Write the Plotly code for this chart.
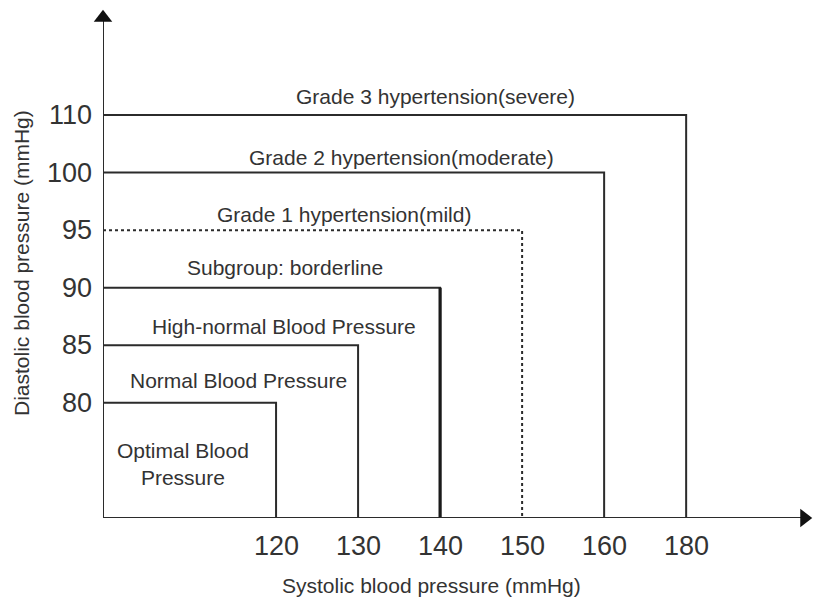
import plotly.graph_objects as go

# ---- data ----
systolic = [120, 130, 140, 150, 160, 180]
diastolic = [80, 85, 90, 95, 100, 110]
# boxes: (systolic limit, diastolic limit, label)
box_sys = [120, 130, 140, 150, 160, 180]
box_dia = [80, 85, 90, 95, 100, 110]
box_labels = [
    "Optimal Blood<br>Pressure",
    "Normal Blood Pressure",
    "High-normal Blood Pressure",
    "Grade 1 hypertension(mild)",
    "Grade 2 hypertension(moderate)",
    "Grade 3 hypertension(severe)",
]
borderline_label = "Subgroup: borderline"
x_title = "Systolic blood pressure (mmHg)"
y_title = "Diastolic blood pressure (mmHg)"

# ---- ordinal scales (ticks are evenly spaced) ----
def xp(v):
    return systolic.index(v)

def yp(v):
    return diastolic.index(v)

X0, Y0 = -2.11, -2.0
XMAX, YMAX = 6.51, 6.79

LINE = "#2b2b2b"
TXT = "#333333"
FONT = "Liberation Sans, Arial, sans-serif"

fig = go.Figure()

styles = {
    120: dict(width=2, dash="solid"),
    130: dict(width=2, dash="solid"),
    140: dict(width=2, dash="solid"),
    150: dict(width=2, dash="3px,3px"),
    160: dict(width=2, dash="solid"),
    180: dict(width=2, dash="solid"),
}

for s, d in zip(box_sys, box_dia):
    st = styles[s]
    fig.add_trace(go.Scatter(
        x=[X0, xp(s), xp(s)], y=[yp(d), yp(d), Y0],
        mode="lines", line=dict(color=LINE, width=st["width"], dash=st["dash"]),
        hoverinfo="skip", showlegend=False))
# the borderline vertical at 140 is drawn heavier
fig.add_trace(go.Scatter(x=[xp(140), xp(140)], y=[yp(90), Y0], mode="lines",
                         line=dict(color="#1a1a1a", width=3.2), hoverinfo="skip", showlegend=False))

# axes with arrows
fig.add_trace(go.Scatter(x=[X0, XMAX - 0.1], y=[Y0, Y0], mode="lines",
                         line=dict(color=LINE, width=2), showlegend=False, hoverinfo="skip",
                         cliponaxis=False))
fig.add_trace(go.Scatter(x=[X0, X0], y=[Y0, YMAX - 0.15], mode="lines",
                         line=dict(color=LINE, width=2), showlegend=False, hoverinfo="skip",
                         cliponaxis=False))
fig.add_trace(go.Scatter(x=[XMAX - 0.07], y=[Y0], mode="markers",
                         marker=dict(symbol="triangle-right", size=16, color="#111111"),
                         showlegend=False, hoverinfo="skip", cliponaxis=False))
fig.add_trace(go.Scatter(x=[X0], y=[YMAX - 0.1], mode="markers",
                         marker=dict(symbol="triangle-up", size=16, color="#111111"),
                         showlegend=False, hoverinfo="skip", cliponaxis=False))

ann = []
# tick labels
for v in systolic:
    ann.append(dict(x=xp(v), y=Y0, xref="x", yref="y", text=str(v), showarrow=False,
                    yshift=-28, font=dict(size=27, color=TXT, family=FONT)))
for v in diastolic:
    ann.append(dict(x=X0, y=yp(v), xref="x", yref="y", text=str(v), showarrow=False,
                    xanchor="right", xshift=-9, font=dict(size=27, color=TXT, family=FONT)))

# region labels: (x center in slot units, y in slot units)
label_pos = {
    "Optimal Blood<br>Pressure": (-1.14, -1.06),
    "Normal Blood Pressure": (-0.46, 0.38),
    "High-normal Blood Pressure": (0.10, 1.32),
    "Grade 1 hypertension(mild)": (0.83, 3.27),
    "Grade 2 hypertension(moderate)": (1.53, 4.27),
    "Grade 3 hypertension(severe)": (1.94, 5.32),
}
for lab in box_labels:
    x, y = label_pos[lab]
    ann.append(dict(x=x, y=y, xref="x", yref="y", text=lab, showarrow=False,
                    font=dict(size=21, color=TXT, family=FONT)))
ann.append(dict(x=0.11, y=2.35, xref="x", yref="y", text=borderline_label, showarrow=False,
                font=dict(size=21, color=TXT, family=FONT)))

# axis titles
ann.append(dict(x=1.89, y=Y0, xref="x", yref="y", text=x_title, showarrow=False,
                yshift=-67, font=dict(size=21, color=TXT, family=FONT)))
ann.append(dict(x=X0, y=2.43, xref="x", yref="y", text=y_title, showarrow=False,
                textangle=-90, xshift=-81, font=dict(size=21, color=TXT, family=FONT)))

fig.update_layout(
    width=814, height=601,
    margin=dict(l=103, r=4, t=12, b=83),
    paper_bgcolor="white", plot_bgcolor="white",
    xaxis=dict(range=[X0, XMAX], visible=False, fixedrange=True),
    yaxis=dict(range=[Y0, YMAX], visible=False, fixedrange=True),
    annotations=ann,
    showlegend=False,
)

fig.write_html("out.html")
